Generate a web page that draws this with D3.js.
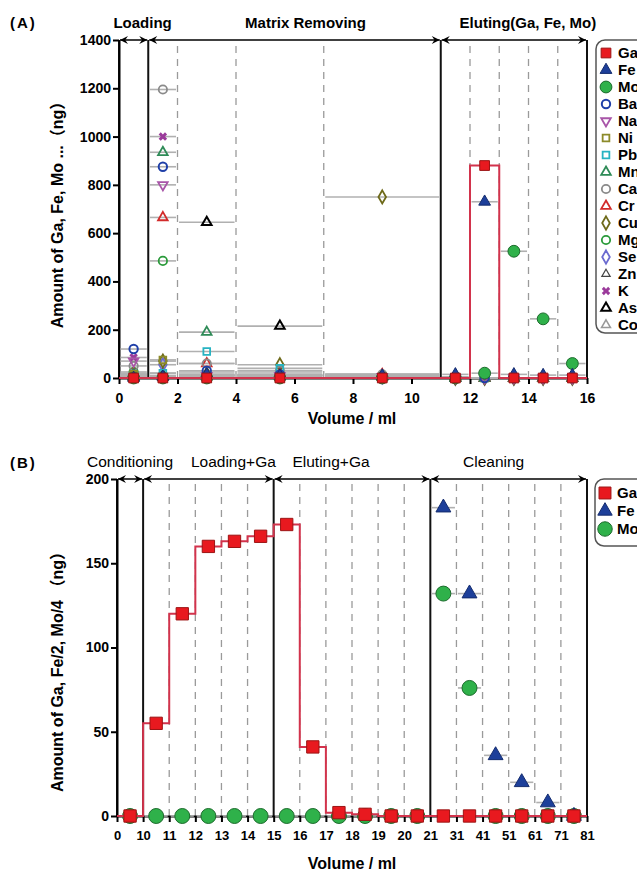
<!DOCTYPE html>
<html>
<head>
<meta charset="utf-8">
<script src="https://cdn.jsdelivr.net/npm/d3@7"></script>
<style>
    body { margin: 0; background: #fff; }
    svg { display: block; font-family: Arial, 'Liberation Sans', 'Noto Sans CJK SC', sans-serif; }
    .axis path, .axis line { stroke: #000; stroke-width: 2; }
    .axis text { font-weight: bold; font-size: 14px; fill: #000; font-family: Arial, 'Liberation Sans', sans-serif; }
    .axis.small text { font-size: 13px; }
</style>
</head>
<body>
<svg id="chart" width="637" height="873"></svg>
<script>
// ---- Panel A data: interval edges (ml), amounts (ng) per interval ----
var edgesA = [0, 1, 2, 4, 7, 11, 12, 13, 14, 15, 16];
var phaseEdgesA = [0, 1, 11, 16];
var phaseNamesA = ['Loading', 'Matrix Removing', 'Eluting(Ga, Fe, Mo)'];
var elementsA = ['Ga', 'Fe', 'Mo', 'Ba', 'Na', 'Ni', 'Pb', 'Mn', 'Ca', 'Cr', 'Cu', 'Mg', 'Se', 'Zn', 'K', 'As', 'Co'];
var gaA = [0, 0, 0, 0, 0, 0, 880, 0, 0, 0];
var feA = [0, 5, 15, 10, 10, 15, 730, 15, 12, 12];
var moA = [0, 0, 0, 0, 0, 0, 20, 525, 245, 60];
var baA = [120, 875, 30, 15, 5, 0, 0, 0, 0, 0];
var naA = [70, 800, 10, 10, 5, 0, 0, 0, 0, 0];
var niA = [15, 75, 10, 10, 5, 0, 0, 0, 0, 0];
var pbA = [10, 20, 110, 40, 5, 0, 0, 0, 0, 0];
var mnA = [15, 935, 190, 10, 5, 0, 0, 0, 0, 0];
var caA = [50, 1195, 60, 30, 15, 0, 0, 0, 0, 0];
var crA = [20, 665, 60, 15, 15, 5, 0, 0, 0, 0];
var cuA = [10, 70, 15, 55, 750, 0, 0, 0, 0, 0];
var mgA = [25, 485, 10, 10, 5, 0, 0, 0, 0, 0];
var seA = [10, 55, 10, 10, 5, 0, 0, 0, 0, 0];
var znA = [15, 20, 25, 25, 15, 5, 0, 0, 0, 0];
var kA = [85, 1000, 10, 10, 5, 0, 0, 0, 0, 0];
var asA = [5, 10, 645, 215, 10, 0, 0, 0, 0, 0];
var coA = [10, 10, 10, 10, 10, 0, 0, 0, 0, 0];
var yTicksA = [0, 200, 400, 600, 800, 1000, 1200, 1400];
var xTicksA = [0, 2, 4, 6, 8, 10, 12, 14, 16];

// ---- Panel B data: Ga, Fe/2, Mo/4 (ng) per interval ----
var volumesB = [0, 10, 11, 12, 13, 14, 15, 16, 17, 18, 19, 20, 21, 31, 41, 51, 61, 71, 81];
var phaseEdgesB = [0, 10, 15, 21, 81];
var phaseNamesB = ['Conditioning', 'Loading+Ga', 'Eluting+Ga', 'Cleaning'];
var elementsB = ['Ga', 'Fe', 'Mo'];
var gaB = [0, 55, 120, 160, 163, 166, 173, 41, 2, 1, 0, 0, 0, 0, 0, 0, 0, 0];
var feB = [null, null, null, null, null, null, null, null, null, null, null, null, 183, 132, 36, 20, 8, 0];
var moB = [0, 0, 0, 0, 0, 0, 0, 0, 0, 0, 0, 0, 132, 76, 0, 0, 0, 0];
var yTicksB = [0, 50, 100, 150, 200];

// Marker styles
var styles = {
    Ga: { shape: 'square', fill: '#e8191f', stroke: '#9c1414', sw: 1, size: 95 },
    Fe: { shape: 'triangle', fill: '#1d3f9a', stroke: '#142c6e', sw: 1, size: 60 },
    Mo: { shape: 'circle', fill: '#2fb14a', stroke: '#1c6b2c', sw: 1, size: 110 },
    Ba: { shape: 'circle', fill: 'none', stroke: '#1f3fa8', sw: 2, size: 55 },
    Na: { shape: 'tridown', fill: 'none', stroke: '#a855a8', sw: 1.8, size: 40 },
    Ni: { shape: 'square', fill: 'none', stroke: '#8c8a2a', sw: 1.8, size: 45 },
    Pb: { shape: 'square', fill: 'none', stroke: '#27b3c2', sw: 1.8, size: 45 },
    Mn: { shape: 'triangle', fill: 'none', stroke: '#2e8b57', sw: 1.8, size: 40 },
    Ca: { shape: 'circle', fill: 'none', stroke: '#8a8a8a', sw: 1.8, size: 55 },
    Cr: { shape: 'triangle', fill: 'none', stroke: '#d22b2b', sw: 1.8, size: 40 },
    Cu: { shape: 'diamond', fill: 'none', stroke: '#6e6a1a', sw: 1.8, size: 50 },
    Mg: { shape: 'circle', fill: 'none', stroke: '#2a9a3a', sw: 1.8, size: 55 },
    Se: { shape: 'diamond', fill: 'none', stroke: '#6b6bd0', sw: 1.8, size: 50 },
    Zn: { shape: 'triangle', fill: 'none', stroke: '#444', sw: 1.2, size: 30 },
    K: { shape: 'cross', fill: '#9b3a9b', stroke: 'none', sw: 0, size: 45 },
    As: { shape: 'triangle', fill: 'none', stroke: '#000', sw: 2, size: 40 },
    Co: { shape: 'triangle', fill: 'none', stroke: '#999', sw: 1.5, size: 35 },
};
var seriesA = {
    Ga: gaA, Fe: feA, Mo: moA, Ba: baA, Na: naA, Ni: niA, Pb: pbA, Mn: mnA, Ca: caA,
    Cr: crA, Cu: cuA, Mg: mgA, Se: seA, Zn: znA, K: kA, As: asA, Co: coA,
};
var seriesB = { Ga: gaB, Fe: feB, Mo: moB };

var svg = d3.select('#chart');
var stepColor = '#d2334c';
var barColor = '#b0b0b0';

// Arrow head
svg.append('defs')
    .append('marker')
    .attr('id', 'arr')
    .attr('viewBox', '0 0 10 10')
    .attr('refX', 10)
    .attr('refY', 5)
    .attr('markerWidth', 11)
    .attr('markerHeight', 8)
    .attr('markerUnits', 'userSpaceOnUse')
    .attr('orient', 'auto-start-reverse')
    .append('path')
    .attr('d', 'M0,0 L10,5 L0,10 L3.5,5 Z')
    .attr('fill', '#000');

function symbolPath(st, scale) {
    var k = scale || 1;
    var type = {
        square: d3.symbolSquare,
        triangle: d3.symbolTriangle,
        tridown: d3.symbolTriangle,
        circle: d3.symbolCircle,
        diamond: d3.symbolDiamond,
        cross: d3.symbolCross,
    }[st.shape];
    return d3.symbol().type(type).size(st.size * k)();
}

function drawMarker(g, name, x, y, scale) {
    var st = styles[name];
    var rot = st.shape === 'tridown' ? 180 : st.shape === 'cross' ? 45 : 0;
    g.append('path')
        .attr('d', symbolPath(st, scale))
        .attr('transform', 'translate(' + x + ',' + y + ') rotate(' + rot + ')')
        .attr('fill', st.fill)
        .attr('stroke', st.stroke)
        .attr('stroke-width', st.sw);
}

function drawPanel(opt) {
    var g = svg.append('g');
    var x = opt.x,
        y = opt.y;
    var top = y.range()[1],
        bottom = y.range()[0];

    // Dashed interval separators
    opt.edges
        .filter(function (e) {
            return opt.phaseEdges.indexOf(e) < 0;
        })
        .forEach(function (e) {
            g.append('line')
                .attr('x1', x(e)).attr('x2', x(e))
                .attr('y1', bottom).attr('y2', top)
                .attr('stroke', '#9a9a9a')
                .attr('stroke-width', 1.3)
                .attr('stroke-dasharray', '7,6');
        });

    // Solid phase separators
    opt.phaseEdges.forEach(function (e) {
        g.append('line')
            .attr('x1', x(e)).attr('x2', x(e))
            .attr('y1', bottom).attr('y2', top)
            .attr('stroke', '#111')
            .attr('stroke-width', 2);
    });

    // Phase arrows and labels
    opt.phaseNames.forEach(function (name, i) {
        var a = x(opt.phaseEdges[i]),
            b = x(opt.phaseEdges[i + 1]);
        g.append('line')
            .attr('x1', a + 1).attr('x2', b - 1)
            .attr('y1', top).attr('y2', top)
            .attr('stroke', '#000')
            .attr('stroke-width', 1.5)
            .attr('marker-start', 'url(#arr)')
            .attr('marker-end', 'url(#arr)');
        g.append('text')
            .attr('x', (a + b) / 2 + opt.labelShift[i])
            .attr('y', top - 12)
            .attr('text-anchor', 'middle')
            .attr('font-size', opt.headSize)
            .attr('font-weight', opt.headWeight)
            .text(name);
    });

    // Axes
    g.append('g')
        .attr('class', 'axis ' + (opt.xAxisClass || ''))
        .attr('transform', 'translate(0,' + bottom + ')')
        .call(opt.xAxis);
    g.append('g')
        .attr('class', 'axis')
        .attr('transform', 'translate(' + x.range()[0] + ',0)')
        .call(d3.axisLeft(y).tickValues(opt.yTicks).tickFormat(d3.format('d')).tickSize(6).tickPadding(2).tickSizeOuter(0));

    // Horizontal interval bars
    opt.names.forEach(function (name) {
        if (name === 'Ga') return;
        opt.series[name].forEach(function (v, i) {
            if (v === null) return;
            g.append('line')
                .attr('x1', x(opt.edges[i]) + 1.5).attr('x2', x(opt.edges[i + 1]) - 1.5)
                .attr('y1', y(v)).attr('y2', y(v))
                .attr('stroke', barColor)
                .attr('stroke-width', 1.6);
        });
    });

    // Ga step line
    var stepData = opt.series.Ga.map(function (v, i) {
        return [opt.edges[i], v];
    });
    stepData.push([opt.edges[opt.edges.length - 1], opt.series.Ga[opt.series.Ga.length - 1]]);

    // Markers (minor elements first, Ga last)
    var order = opt.names.slice(1).reverse();
    order.forEach(function (name) {
        opt.series[name].forEach(function (v, i) {
            if (v === null) return;
            drawMarker(g, name, x((opt.edges[i] + opt.edges[i + 1]) / 2), y(v), opt.markScale);
        });
    });
    g.append('path')
        .datum(stepData)
        .attr('fill', 'none')
        .attr('stroke', stepColor)
        .attr('stroke-width', 2)
        .attr('d', d3.line().curve(d3.curveStepAfter)
            .x(function (d) { return x(d[0]); })
            .y(function (d) { return y(d[1]); }));
    opt.series.Ga.forEach(function (v, i) {
        drawMarker(g, 'Ga', x((opt.edges[i] + opt.edges[i + 1]) / 2), y(v), opt.markScale);
    });

    // Legend
    var lg = g.append('g');
    lg.append('rect')
        .attr('x', opt.legend.x).attr('y', opt.legend.y)
        .attr('width', 80).attr('height', opt.legend.h)
        .attr('rx', 9)
        .attr('fill', '#fff')
        .attr('stroke', '#555')
        .attr('stroke-width', 1.5);
    opt.names.forEach(function (name, i) {
        var yy = opt.legend.y + opt.legend.first + i * opt.legend.step;
        drawMarker(lg, name, opt.legend.x + 10, yy, opt.legend.scale);
        lg.append('text')
            .attr('x', opt.legend.x + 22)
            .attr('y', yy + 5)
            .attr('font-size', 15)
            .attr('font-weight', 'bold')
            .text(name);
    });

    // Titles
    g.append('text')
        .attr('x', opt.tag.x).attr('y', opt.tag.y)
        .attr('font-size', 15)
        .attr('font-weight', 'bold')
        .attr('letter-spacing', 2)
        .text(opt.tag.text);
    g.append('text')
        .attr('transform', 'translate(' + 63 + ',' + opt.yTitle.y + ') rotate(-90)')
        .attr('text-anchor', 'middle')
        .attr('font-size', 16)
        .attr('font-weight', 'bold')
        .text(opt.yTitle.text);
    g.append('text')
        .attr('x', 352).attr('y', opt.xTitleY)
        .attr('text-anchor', 'middle')
        .attr('font-size', 16)
        .attr('font-weight', 'bold')
        .text('Volume / ml');
}

/*
 * PANEL A
 */
var xA = d3.scaleLinear().domain([0, 16]).range([119, 587]);
var yA = d3.scaleLinear().domain([0, 1400]).range([378, 40]);
drawPanel({
    x: xA,
    y: yA,
    edges: edgesA,
    phaseEdges: phaseEdgesA,
    phaseNames: phaseNamesA,
    labelShift: [9, 11, 14],
    headSize: 15,
    headWeight: 'bold',
    names: elementsA,
    series: seriesA,
    yTicks: yTicksA,
    xAxis: d3.axisBottom(xA).tickValues(xTicksA).tickSize(6).tickPadding(9).tickSizeOuter(0),
    markScale: 1,
    legend: { x: 596, y: 40, h: 293, first: 13, step: 17, scale: 1 },
    tag: { x: 10, y: 28, text: '(A)' },
    yTitle: { y: 211, text: 'Amount of Ga, Fe, Mo ...（ng）' },
    xTitleY: 424,
});

/*
 * PANEL B
 */
var xB = d3.scaleLinear()
    .domain(volumesB)
    .range(volumesB.map(function (d, i) {
        return 117 + (i * (587 - 117)) / (volumesB.length - 1);
    }));
var yB = d3.scaleLinear().domain([0, 200]).range([816, 479]);
drawPanel({
    x: xB,
    y: yB,
    edges: volumesB,
    phaseEdges: phaseEdgesB,
    phaseNames: phaseNamesB,
    labelShift: [0, 25, -21, -15],
    headSize: 15.5,
    headWeight: 'normal',
    names: elementsB,
    series: seriesB,
    yTicks: yTicksB,
    xAxis: d3.axisBottom(xB).tickValues(volumesB).tickFormat(d3.format('d')).tickSize(6).tickPadding(9).tickSizeOuter(0),
    xAxisClass: 'small',
    markScale: 1.6,
    legend: { x: 595, y: 479, h: 67, first: 14, step: 18, scale: 1.5 },
    tag: { x: 10, y: 468, text: '(B)' },
    yTitle: { y: 668, text: 'Amount of Ga, Fe/2, Mo/4 （ng）' },
    xTitleY: 869,
});
</script>
</body>
</html>
